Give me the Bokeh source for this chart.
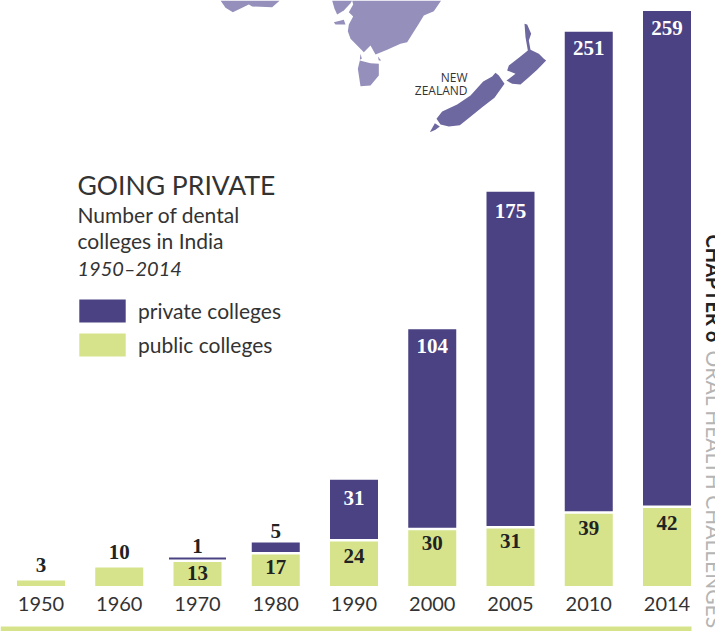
from math import pi
from bokeh.embed import file_html
from bokeh.resources import INLINE
from bokeh.plotting import figure
from bokeh.models import Range1d, ColumnDataSource, Legend, LegendItem
from bokeh.core.properties import value

# ---- data
years = ["1950", "1960", "1970", "1980", "1990", "2000", "2005", "2010", "2014"]
public = [3, 10, 13, 17, 24, 30, 31, 39, 42]
private = [0, 0, 1, 5, 31, 104, 175, 251, 259]

title = "GOING PRIVATE"
subtitle = ["Number of dental", "colleges in India"]
period = "1950\u20132014"

# ---- decorative map outlines, traced on the reference
aus_west = [(60,0),(75,22),(97,35),(125,22),(145,12),(155,18),(215,20),(238,0)]
aus_eyre = [(395,0),(402,25),(410,42),(430,30),(450,8),(455,0)]
aus_main = [(455,0),(458,12),(445,35),(458,48),(445,72),(442,92),(450,115),(470,135),(490,155),(510,135),
            (525,162),(560,148),(600,130),(620,125),(655,70),(670,45),(700,32),(722,0)]
aus_kangaroo = [(400,65),(430,58),(435,72),(405,72)]
aus_tasmania = [(478,180),(510,188),(535,190),(535,225),(510,255),(480,257),(472,205)]
aus_king = [(480,160),(484,175),(478,178)]
aus_flinders = [(532,168),(542,180),(535,180)]
nz_north = [(972,70),(980,72),(992,100),(985,120),(990,148),(1015,160),(1030,175),(1037,180),(1010,208),
            (985,230),(960,252),(935,250),(918,240),(945,220),(920,210),(925,195),(955,172),(982,150),(975,110)]
nz_south = [(885,217),(895,225),(912,250),(882,292),(845,320),(808,350),(778,374),(745,378),(720,372),
            (708,355),(725,333),(770,312),(810,285),(848,243),(875,228)]
nz_stewart = [(703,368),(718,378),(705,388),(688,395)]

# ---- layout
W, H = 715, 631
BASE = 585.5
PUB_SCALE = 1.855
PRI_SCALE = 1.91
STEP = 78.25
FIRST = 40.5
BAR_W = 48 / STEP
GAP = 2.5

PURPLE = "#4a4282"
GREEN = "#d6e38a"
INK = "#333333"
SANS = value("Lato")
SERIF = value("Liberation Serif")

p = figure(width=W, height=H, output_backend="svg", toolbar_location=None, tools="",
           x_range=Range1d(-FIRST / STEP, (W - FIRST) / STEP),
           y_range=Range1d(-(H - BASE) / PUB_SCALE, BASE / PUB_SCALE),
           y_axis_location=None, min_border=0, outline_line_color=None)
p.grid.visible = False
p.extra_x_ranges["px"] = Range1d(0, W)
p.extra_y_ranges["px"] = Range1d(H, 0)
p.extra_y_ranges["pri"] = Range1d(-(H - BASE) / PRI_SCALE, BASE / PRI_SCALE)

# map
def outline(points, color):
    p.patch([200 + x / 3 for x, y in points], [y / 3 for x, y in points], fill_color=color,
            line_color=None, x_range_name="px", y_range_name="px")

for shape in (aus_west, aus_eyre, aus_main, aus_kangaroo, aus_tasmania, aus_king, aus_flinders):
    outline(shape, "#9590bb")
for shape in (nz_north, nz_south, nz_stewart):
    outline(shape, "#6e68a0")

# bars
idx = list(range(len(years)))
pub_src = ColumnDataSource(dict(x=idx, top=public, year=years))
pub_r = p.vbar(x="x", top="top", bottom=0, width=BAR_W, source=pub_src, fill_color=GREEN, line_color=None)

pri_idx = [i for i in idx if private[i] > 0]
pri_bottom = [(public[i] * PUB_SCALE + GAP) / PRI_SCALE for i in pri_idx]
pri_top = [b + private[i] for b, i in zip(pri_bottom, pri_idx)]
pri_width = [57 / STEP if private[i] == 1 else BAR_W for i in pri_idx]
pri_src = ColumnDataSource(dict(x=pri_idx, top=pri_top, bottom=pri_bottom, w=pri_width))
pri_r = p.vbar(x="x", top="top", bottom="bottom", width="w", source=pri_src, fill_color=PURPLE,
               line_color=None, y_range_name="pri")

# value labels
def num(x, y, text, dy, color, rng="default"):
    p.text(x=x, y=y, text=text, y_offset=dy, text_font=SERIF, text_font_style="bold", text_font_size="21px",
           text_color=color, text_align="center", text_baseline="middle", y_range_name=rng)

pub_dy = {2: 11, 3: 13, 4: 15, 5: 13, 6: 13, 7: 14, 8: 15}
in_pub = [i for i in idx if i in pub_dy]
num(in_pub, [public[i] for i in in_pub], [str(public[i]) for i in in_pub], [pub_dy[i] for i in in_pub], "#222222")
out_pub = [i for i in idx if private[i] == 0]
num(out_pub, [public[i] for i in out_pub], [str(public[i]) for i in out_pub], [-15.5] * len(out_pub), "#222222")

pri_dy = {4: 18, 5: 17, 6: 19, 7: 16, 8: 17}
in_pri = [k for k, i in enumerate(pri_idx) if i in pri_dy]
num([pri_idx[k] for k in in_pri], [pri_top[k] for k in in_pri], [str(private[pri_idx[k]]) for k in in_pri],
    [pri_dy[pri_idx[k]] for k in in_pri], "#ffffff", "pri")
out_pri = [k for k, i in enumerate(pri_idx) if i not in pri_dy]
num([pri_idx[k] for k in out_pri], [pri_top[k] for k in out_pri], [str(private[pri_idx[k]]) for k in out_pri],
    [-11] * len(out_pri), "#222222", "pri")

# year axis
ax = p.xaxis[0]
ax.fixed_location = 0
ax.ticker = idx
ax.major_label_overrides = {i: y for i, y in zip(idx, years)}
ax.axis_line_color = None
ax.major_tick_line_color = None
ax.minor_tick_line_color = None
ax.major_label_standoff = 5
ax.major_label_text_font = "Lato"
ax.major_label_text_font_size = "20px"
ax.major_label_text_color = INK

# bottom rule
p.quad(left=[0], right=[691], top=[626], bottom=[631], fill_color=GREEN, line_color=None,
       x_range_name="px", y_range_name="px")

# texts: the renderer sets alphabetic text about 0.42 em low, which these offsets take back
def label(x, y, text, size, color=INK, style="normal", align="left", font=SANS, vertical=False):
    shift = 0.42 * size
    p.text(x=[x + shift if vertical else x], y=[y if vertical else y - shift], text=[text], text_font=font,
           text_font_size=f"{size}px", text_font_style=style, angle=-pi / 2 if vertical else 0,
           text_color=color, text_align=align, text_baseline="alphabetic", x_range_name="px", y_range_name="px")

label(77, 196, title, 26.5)
label(77, 222.7, subtitle[0], 21)
label(77, 248.5, subtitle[1], 21)
label(77, 276, period, 20, style="italic")
label(467, 82, "NEW", 12, align="right", font=value("Open Sans"))
label(467, 95, "ZEALAND", 12, align="right", font=value("Open Sans"))
label(705, 234, "CHAPTER 6", 20, color="#222222", style="bold", vertical=True)
label(705, 350, "ORAL HEALTH CHALLENGES", 21, color="#b5b5b5", vertical=True)

# legend
legend = Legend(items=[LegendItem(label="private colleges", renderers=[pri_r]),
                       LegendItem(label="public colleges", renderers=[pub_r])],
                location=(73, H - 359), orientation="vertical", background_fill_alpha=0, border_line_color=None,
                glyph_width=58, glyph_height=29, label_height=29, spacing=5, padding=0, margin=0,
                label_standoff=7, label_text_font="Lato", label_text_font_size="21px", label_text_color=INK)
p.add_layout(legend)

open("out.html", "w").write(file_html(p, INLINE))
